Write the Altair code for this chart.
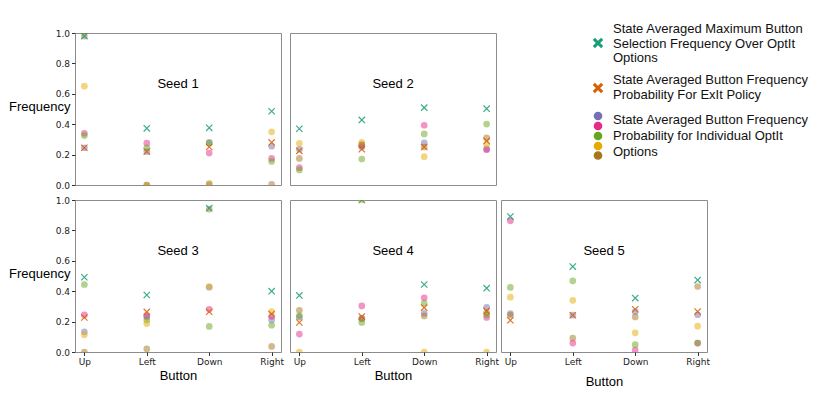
import json
import pandas as pd
import altair as alt

# ---------------- data ----------------
buttons = ["Up", "Left", "Down", "Right"]
seeds = ["Seed 1", "Seed 2", "Seed 3", "Seed 4", "Seed 5"]

# state averaged button frequency for each individual OptIt option (per seed, per button)
opt1 = [[0.245, 0.22, 0.28, 0.255], [0.235, 0.25, 0.278, 0.237], [0.133, 0.23, 0.426, 0.211],
        [0.23, 0.221, 0.255, 0.294], [0.253, 0.242, 0.265, 0.245]]
opt2 = [[0.34, 0.275, 0.21, 0.175], [0.114, 0.26, 0.393, 0.232], [0.244, 0.24, 0.281, 0.235],
        [0.118, 0.303, 0.357, 0.227], [0.863, 0.059, 0.013, 0.059]]
opt3 = [[0.325, 0.245, 0.275, 0.155], [0.099, 0.171, 0.336, 0.401], [0.444, 0.21, 0.168, 0.176],
        [0.237, 0.194, 0.322, 0.245], [0.425, 0.468, 0.048, 0.059]]
opt4 = [[0.65, 0.0, 0.0, 0.35], [0.274, 0.28, 0.186, 0.268], [0.113, 0.187, 0.43, 0.266],
        [0.0, 1.0, 0.0, 0.0], [0.361, 0.34, 0.126, 0.17]]
opt5 = [[0.98, 0.0, 0.01, 0.005], [0.175, 0.265, 0.25, 0.31], [0.0, 0.02, 0.94, 0.037],
        [0.274, 0.22, 0.237, 0.26], [0.242, 0.092, 0.231, 0.431]]
# state averaged maximum button selection frequency over OptIt options
max_freq = [[0.98, 0.373, 0.376, 0.485], [0.37, 0.428, 0.509, 0.502], [0.492, 0.375, 0.946, 0.40],
            [0.372, 1.0, 0.444, 0.42], [0.891, 0.562, 0.355, 0.473]]
# state averaged button frequency probability for ExIt policy
exit_freq = [[0.245, 0.22, 0.25, 0.28], [0.225, 0.235, 0.25, 0.29], [0.227, 0.264, 0.265, 0.25],
             [0.194, 0.233, 0.292, 0.27], [0.209, 0.242, 0.281, 0.266]]

option_series = [opt1, opt2, opt3, opt4, opt5]
option_colors = ["#7570b3", "#e7298a", "#66a61e", "#e6ab02", "#a6761d"]
max_color = "#1b9e77"
exit_color = "#d95f02"

legend_labels = [
    ["State Averaged Maximum Button", "Selection Frequency Over OptIt", "Options"],
    ["State Averaged Button Frequency", "Probability For ExIt Policy"],
    ["State Averaged Button Frequency", "Probability for Individual OptIt", "Options"],
]

# ---------------- tables ----------------
dot_rows, cross_rows = [], []
for s, seed in enumerate(seeds):
    for k, ser in enumerate(option_series):
        for b in range(len(buttons)):
            dot_rows.append({"seed": seed, "b": b, "val": ser[s][b], "col": option_colors[k]})
    for b in range(len(buttons)):
        cross_rows.append({"seed": seed, "b": b, "val": max_freq[s][b], "col": max_color})
    for b in range(len(buttons)):
        cross_rows.append({"seed": seed, "b": b, "val": exit_freq[s][b], "col": exit_color})
dots_df = pd.DataFrame(dot_rows)
cross_df = pd.DataFrame(cross_rows)

X_PATH = "M-1,-1L1,1M-1,1L1,-1"
PW, PH = 206, 152
label_expr = json.dumps(buttons) + "[datum.value]"


def panel(i, show_y, show_x, title_pad=3):
    xs = alt.Scale(domain=[-0.15, len(buttons) - 0.85], nice=False, zero=False)
    ys = alt.Scale(domain=[0, 1], nice=False, zero=False)
    if show_x:
        xaxis = alt.Axis(values=list(range(len(buttons))), labelExpr=label_expr, title="Button",
                         titlePadding=title_pad, labelAngle=0, labelFlush=False, tickSize=3.5,
                         labelPadding=2, domain=False, grid=False, labelFont="DejaVu Sans",
                         labelFontSize=9, labelColor="#222", tickColor="#333",
                         titleFont="Liberation Sans", titleFontSize=13, titleFontWeight="normal",
                         titleColor="#000")
    else:
        xaxis = None
    if show_y:
        yaxis = alt.Axis(values=[0, 0.2, 0.4, 0.6, 0.8, 1.0], format=".1f", title="Frequency",
                         titleAngle=0, titleAlign="right", titleBaseline="middle", titleX=-5,
                         titleY=73, tickSize=3.5, labelPadding=2, domain=False, grid=False,
                         labelFont="DejaVu Sans", labelFontSize=9, labelColor="#222",
                         tickColor="#333", titleFont="Liberation Sans", titleFontSize=13,
                         titleFontWeight="normal", titleColor="#000")
    else:
        yaxis = None
    X = alt.X("b:Q", scale=xs, axis=xaxis)
    Y = alt.Y("val:Q", scale=ys, axis=yaxis)
    d = dots_df[dots_df.seed == seeds[i]]
    c = cross_df[cross_df.seed == seeds[i]]
    dots = alt.Chart(d).mark_circle(size=45, opacity=0.5, clip=True).encode(
        x=X, y=Y, color=alt.Color("col:N", scale=None))
    crosses = alt.Chart(c).mark_point(shape=X_PATH, filled=False, size=40, strokeWidth=1.2,
                                      opacity=0.85, clip=True).encode(
        x=X, y=Y, color=alt.Color("col:N", scale=None))
    lab = pd.DataFrame({"b": [(len(buttons) - 1) / 2], "val": [2 / 3], "t": [seeds[i]]})
    text = alt.Chart(lab).mark_text(font="Liberation Sans", fontSize=13, color="#000").encode(
        x=X, y=Y, text="t:N")
    return alt.layer(dots, crosses, text).properties(width=PW, height=PH)


# ---------------- hand-made legend ----------------
line_y = [[-4, 10.5, 25], [47, 62], [87, 103, 119]]
sym_y = [10, 55]
dot_sym_y = [83, 93, 103, 113, 122.5]
TEXT_X, SYM_X, LW = 108, 93, 300

txt_rows = []
for e, lines in enumerate(legend_labels):
    for j, ln in enumerate(lines):
        txt_rows.append({"lx": TEXT_X, "ly": line_y[e][j], "t": ln})
leg_txt = pd.DataFrame(txt_rows)
leg_x = pd.DataFrame({"lx": [SYM_X, SYM_X], "ly": sym_y, "col": [max_color, exit_color]})
leg_d = pd.DataFrame({"lx": [SYM_X] * 5, "ly": dot_sym_y, "col": option_colors})

LX = alt.X("lx:Q", scale=alt.Scale(domain=[0, LW], nice=False, zero=False), axis=None)
LY = alt.Y("ly:Q", scale=alt.Scale(domain=[PH, 0], nice=False, zero=False), axis=None)
leg = alt.layer(
    alt.Chart(leg_txt).mark_text(font="Liberation Sans", fontSize=13, align="left",
                                 baseline="middle", color="#111").encode(x=LX, y=LY, text="t:N"),
    alt.Chart(leg_x).mark_point(shape=X_PATH, filled=False, size=70, strokeWidth=3,
                                opacity=1).encode(x=LX, y=LY, color=alt.Color("col:N", scale=None)),
    alt.Chart(leg_d).mark_circle(size=75, opacity=1).encode(
        x=LX, y=LY, color=alt.Color("col:N", scale=None)),
).properties(width=LW, height=PH, view=alt.ViewBackground(stroke="transparent"))

row1 = alt.hconcat(panel(0, True, False), panel(1, False, False), leg, spacing=7).resolve_scale(
    x="independent", y="independent")
row2a = alt.hconcat(panel(2, True, True), panel(3, False, True), spacing=5).resolve_scale(
    x="independent", y="independent")
row2 = alt.hconcat(row2a, panel(4, False, True, title_pad=9), spacing=1).resolve_scale(
    x="independent", y="independent")

chart = alt.vconcat(row1, row2, spacing=4).resolve_scale(
    x="independent", y="independent").properties(
    padding={"left": 0, "top": 14, "right": 5, "bottom": 5}
).configure_view(stroke="#8c8c8c", strokeWidth=1)

chart.save("out.html", embed_options={"renderer": "svg", "actions": False})
